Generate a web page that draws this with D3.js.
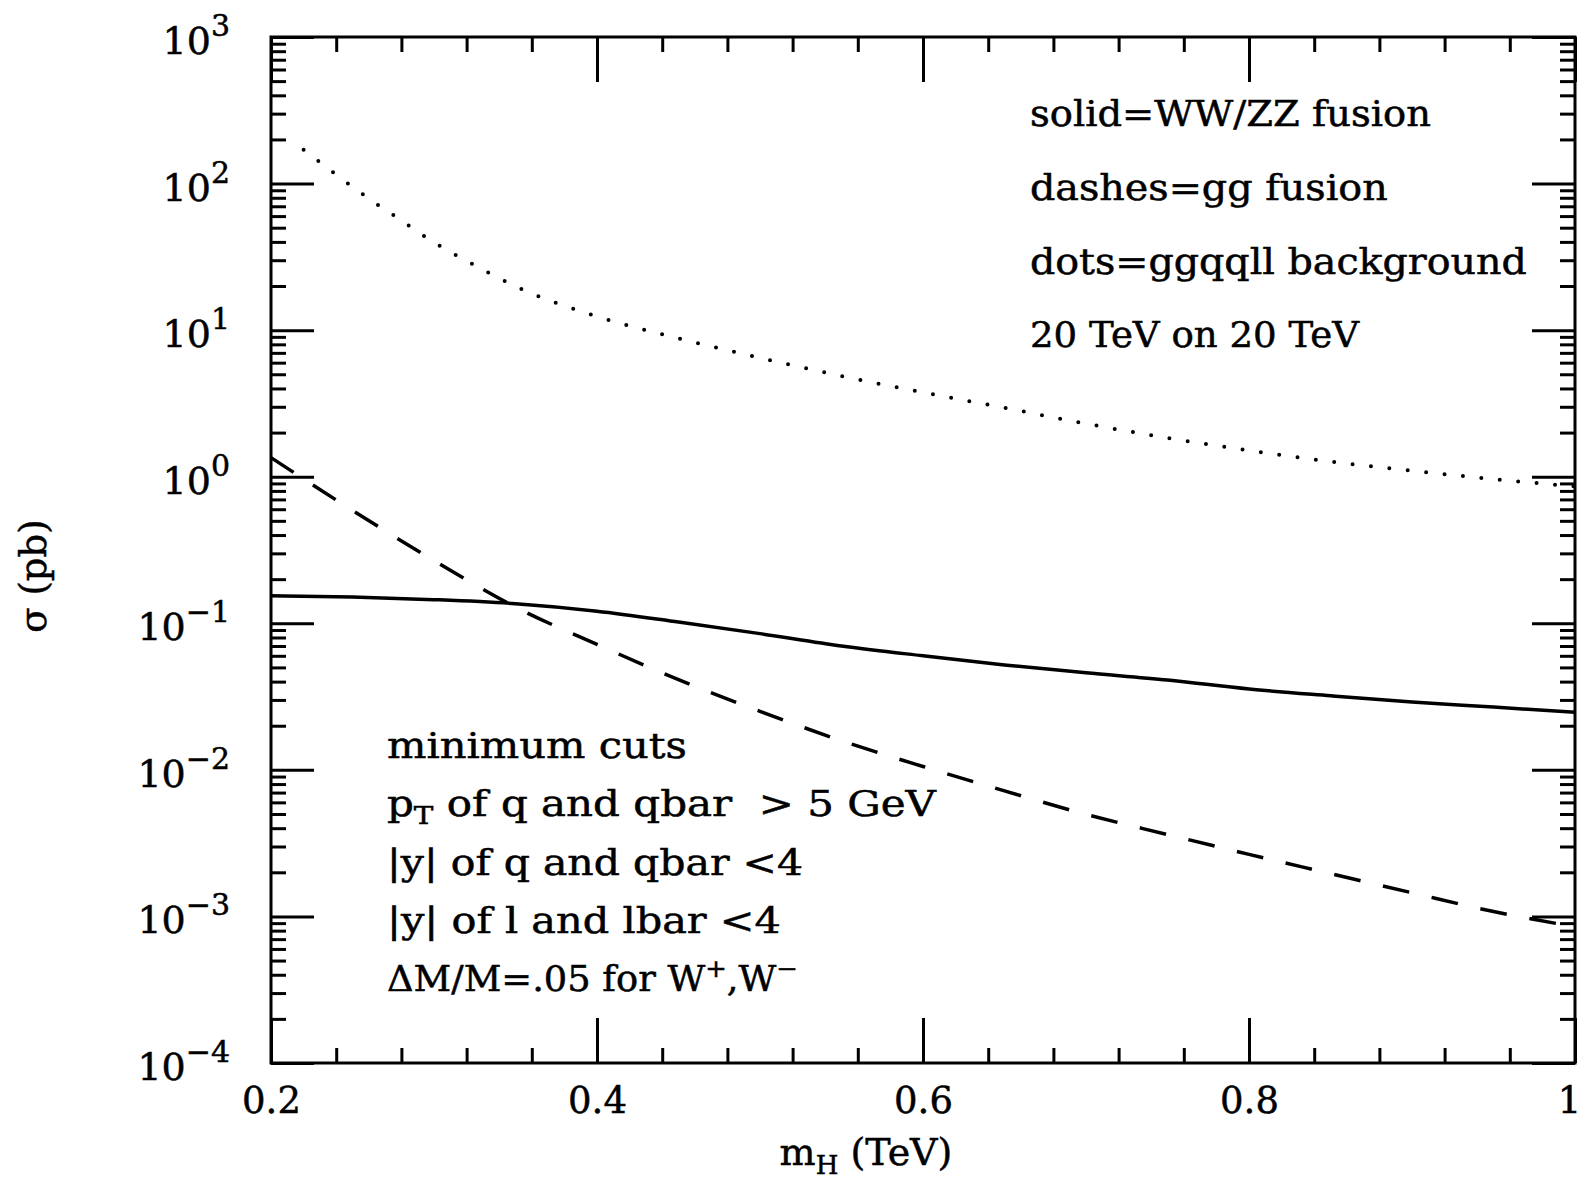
<!DOCTYPE html>
<html>
<head>
<meta charset="utf-8">
<script src="https://cdn.jsdelivr.net/npm/d3@7"></script>
<style>
  html, body { margin: 0; padding: 0; background: #fff; }
  svg text { font-family: "DejaVu Serif", serif; fill: #000; stroke: #000; stroke-width: 0.5px; }
</style>
</head>
<body>
<svg id="chart" width="1584" height="1184"></svg>
<script>
// WW/ZZ fusion (solid)
const wwMass  = [0.20, 0.25, 0.30, 0.35, 0.40, 0.45, 0.50, 0.55, 0.60, 0.65, 0.70, 0.75, 0.80, 0.85, 0.90, 0.95, 1.00];
const wwSigma = [0.154, 0.151, 0.145, 0.136, 0.121, 0.102, 0.085, 0.070, 0.060, 0.052, 0.046, 0.041, 0.0356, 0.032, 0.029, 0.0268, 0.0247];

// gg fusion (dashes)
const ggMass  = [0.20, 0.22, 0.25, 0.30, 0.35, 0.40, 0.45, 0.50, 0.55, 0.60, 0.65, 0.70, 0.75, 0.80, 0.85, 0.90, 0.95, 1.00];
const ggSigma = [1.35, 0.966, 0.589, 0.268, 0.129, 0.0718, 0.0412, 0.0251, 0.0158, 0.01054, 0.00719, 0.00497, 0.00362, 0.00265, 0.00196, 0.00145, 0.00108, 0.00085];

// ggqqll background (dots)
const bkgMass  = [0.22, 0.24, 0.26, 0.28, 0.30, 0.32, 0.35, 0.40, 0.45, 0.50, 0.55, 0.60, 0.65, 0.70, 0.75, 0.80, 0.85, 0.90, 0.95, 1.00];
const bkgSigma = [170, 115, 79, 56, 39.7, 29.7, 19.9, 12.4, 8.8, 6.47, 4.86, 3.76, 2.95, 2.30, 1.84, 1.51, 1.27, 1.10, 0.962, 0.86];

const xMajor = [0.2, 0.4, 0.6, 0.8, 1.0];
const xTickLabels = ['0.2', '0.4', '0.6', '0.8', '1'];
const yExponents = [-4, -3, -2, -1, 0, 1, 2, 3];

const legendLines = [
  [{ t: 'solid=WW/ZZ fusion' }],
  [{ t: 'dashes=gg fusion' }],
  [{ t: 'dots=ggqqll background' }],
  [{ t: '20 TeV on 20 TeV' }]
];
const cutLines = [
  [{ t: 'minimum cuts' }],
  [{ t: 'p' }, { t: 'T', sub: true }, { t: ' of q and qbar \u00a0> 5 GeV' }],
  [{ t: '|y| of q and qbar <4' }],
  [{ t: '|y| of l and lbar <4' }],
  [{ t: '\u0394M/M=.05 for W' }, { t: '+', sup: true }, { t: ',W' }, { t: '\u2212', sup: true }]
];

const svg = d3.select('#chart');
const plotL = 271, plotR = 1575, plotT = 37, plotB = 1063;

svg.append('rect').attr('width', 1584).attr('height', 1184).attr('fill', '#fff');

const x = d3.scaleLinear().domain([0.2, 1]).range([plotL, plotR]);
const y = d3.scaleLog().domain([1e-4, 1e3]).range([plotB, plotT]);

const xMinor = d3.range(0.2, 1.0001, 0.04).filter(v => !xMajor.some(m => Math.abs(m - v) < 1e-6));
const yAll = y.ticks();
const yMajor = yAll.filter(v => Math.abs(Math.log10(v) - Math.round(Math.log10(v))) < 1e-9);
const yMinor = yAll.filter(v => !yMajor.includes(v));

function styleAxis(g) {
  g.select('.domain').remove();
  g.selectAll('line').attr('stroke', '#000').attr('stroke-width', 3);
  g.attr('font-family', null).attr('font-size', null);
}

// bottom
svg.append('g').attr('transform', `translate(0,${plotB})`)
  .call(d3.axisBottom(x).tickValues(xMajor).tickSize(-45).tickPadding(24).tickFormat((d, i) => xTickLabels[i]))
  .call(styleAxis)
  .selectAll('text').attr('font-size', 37)
  .attr('x', d => d === 1 ? -6 : 0);
svg.append('g').attr('transform', `translate(0,${plotB})`)
  .call(d3.axisBottom(x).tickValues(xMinor).tickSize(-15).tickFormat(''))
  .call(styleAxis);
// top
svg.append('g').attr('transform', `translate(0,${plotT})`)
  .call(d3.axisTop(x).tickValues(xMajor).tickSize(-45).tickFormat(''))
  .call(styleAxis);
svg.append('g').attr('transform', `translate(0,${plotT})`)
  .call(d3.axisTop(x).tickValues(xMinor).tickSize(-15).tickFormat(''))
  .call(styleAxis);
// left
svg.append('g').attr('transform', `translate(${plotL},0)`)
  .call(d3.axisLeft(y).tickValues(yMajor).tickSize(-43).tickFormat(''))
  .call(styleAxis);
svg.append('g').attr('transform', `translate(${plotL},0)`)
  .call(d3.axisLeft(y).tickValues(yMinor).tickSize(-15).tickFormat(''))
  .call(styleAxis);
// right
svg.append('g').attr('transform', `translate(${plotR},0)`)
  .call(d3.axisRight(y).tickValues(yMajor).tickSize(-43).tickFormat(''))
  .call(styleAxis);
svg.append('g').attr('transform', `translate(${plotR},0)`)
  .call(d3.axisRight(y).tickValues(yMinor).tickSize(-15).tickFormat(''))
  .call(styleAxis);

// y labels 10^n
yExponents.forEach(e => {
  const t = svg.append('text')
    .attr('x', 230).attr('y', y(Math.pow(10, e)) + 17)
    .attr('text-anchor', 'end');
  t.append('tspan').attr('font-size', 38).text('10');
  t.append('tspan').attr('font-size', 30).attr('dy', -18).text(e < 0 ? '\u2212' + Math.abs(e) : String(e));
});

// frame
svg.append('rect')
  .attr('x', plotL).attr('y', plotT).attr('width', plotR - plotL).attr('height', plotB - plotT)
  .attr('fill', 'none').attr('stroke', '#000').attr('stroke-width', 3);

// curves
const line = d3.line().x(d => x(d[0])).y(d => y(d[1])).curve(d3.curveMonotoneX);

svg.append('path')
  .datum(d3.zip(wwMass, wwSigma))
  .attr('d', line).attr('fill', 'none').attr('stroke', '#000').attr('stroke-width', 3.5);

svg.append('path')
  .datum(d3.zip(ggMass, ggSigma))
  .attr('d', line).attr('fill', 'none').attr('stroke', '#000').attr('stroke-width', 3.5)
  .attr('stroke-dasharray', '27 23');

svg.append('path')
  .datum(d3.zip(bkgMass, bkgSigma))
  .attr('d', line).attr('fill', 'none').attr('stroke', '#000').attr('stroke-width', 4)
  .attr('stroke-linecap', 'round').attr('stroke-dasharray', '0 18.5');

// annotation text, stretched horizontally to the widths of the original
function richText(parts, px, py, width, size) {
  const t = svg.append('text').attr('font-size', size).attr('x', 0).attr('y', 0);
  let shift = 0;
  parts.forEach(p => {
    const want = p.sub ? 8 : p.sup ? -14 : 0;
    const s = t.append('tspan').attr('dy', want - shift).text(p.t);
    if (p.sub || p.sup) s.attr('font-size', size * 0.7);
    shift = want;
  });
  const w = t.node().getBBox().width;
  t.attr('transform', `translate(${px},${py}) scale(${width / w},1)`);
  return t;
}

const legendY = [126, 200, 274, 347];
const legendW = [401, 358, 497, 330];
legendLines.forEach((parts, i) => richText(parts, 1030, legendY[i], legendW[i], 35));

const cutY = [758, 816, 875, 933, 991];
const cutW = [300, 550, 416, 394, 411];
cutLines.forEach((parts, i) => richText(parts, 387, cutY[i], cutW[i], 35));

// axis titles
const xt = svg.append('text').attr('x', 866).attr('y', 1165).attr('text-anchor', 'middle').attr('font-size', 38);
xt.append('tspan').text('m');
xt.append('tspan').attr('font-size', 26).attr('dy', 9).text('H');
xt.append('tspan').attr('dy', -9).text(' (TeV)');

svg.append('text')
  .attr('transform', 'translate(46,576) rotate(-90)')
  .attr('text-anchor', 'middle').attr('font-size', 37)
  .text('\u03c3 (pb)');
</script>
</body>
</html>
